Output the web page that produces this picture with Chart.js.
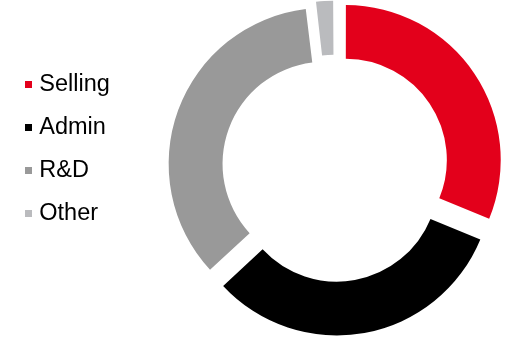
<!DOCTYPE html>
<html><head><meta charset="utf-8">
<script src="https://cdn.jsdelivr.net/npm/chart.js@4/dist/chart.umd.min.js"></script>
<style>
html,body{margin:0;padding:0;background:#fff;}
#wrap{position:relative;width:508px;height:338px;overflow:hidden;}
#c{position:absolute;left:0;top:0;}
.leg{position:absolute;left:0;height:23.5px;font-family:"Liberation Sans",Arial,sans-serif;font-size:23.5px;line-height:23.5px;color:#000;white-space:nowrap;}
.leg i{position:absolute;width:7px;height:7px;left:25px;top:8.5px;}
.leg span{position:absolute;left:39.3px;top:0;}
</style></head><body>
<div id="wrap"><canvas id="c" width="508" height="338"></canvas></div>
<script>
const categories = ['Selling', 'Admin', 'R&D', 'Other'];
const shares = [31.2, 31.9, 35.0, 1.9];

const sliceColors = ['#E3001B', '#000000', '#999999', '#BABBBE'];

const wrap = document.getElementById('wrap');
categories.forEach((name, i) => {
  const d = document.createElement('div');
  d.className = 'leg';
  d.style.top = (72.4 + i * 42.9) + 'px';
  const m = document.createElement('i');
  m.style.background = sliceColors[i];
  const s = document.createElement('span');
  s.textContent = name;
  d.appendChild(m); d.appendChild(s);
  wrap.appendChild(d);
});

new Chart(document.getElementById('c').getContext('2d'), {
  type: 'doughnut',
  data: {
    labels: categories,
    datasets: [{
      data: shares,
      backgroundColor: sliceColors,
      borderWidth: 0,
      offset: [54, 52, 42, 27],
      hoverOffset: 0
    }]
  },
  options: {
    responsive: false,
    animation: false,
    events: [],
    radius: 154,
    cutout: '65%',
    rotation: 0,
    layout: { padding: { left: 161, right: 0, top: 0, bottom: 3 } },
    plugins: { legend: { display: false }, tooltip: { enabled: false } }
  }
});
</script>
</body></html>
